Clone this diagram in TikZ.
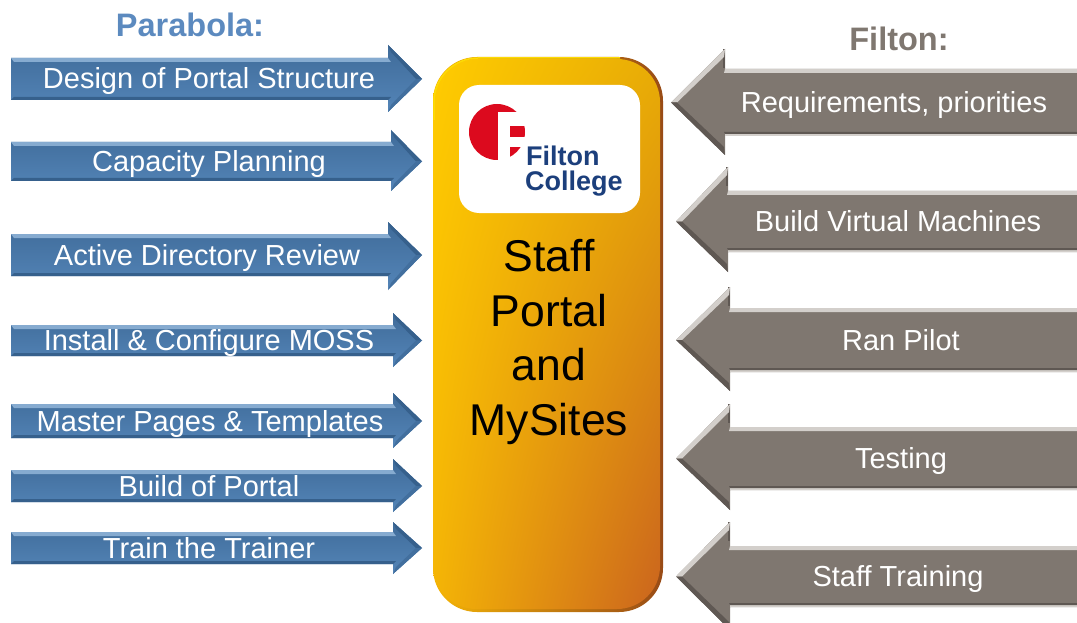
\documentclass[tikz,border=0pt]{standalone}
\usepackage{fontspec}
\setmainfont{Liberation Sans}
\usepackage{tikz}
\usetikzlibrary{calc, shadings}

\definecolor{ParabolaBlue}{HTML}{5C8ABF}
\definecolor{ArrowBlue}{HTML}{5485B8}
\definecolor{ArrowBlueTop}{HTML}{3F6B99}
\definecolor{ArrowBlueDark}{HTML}{36608C}
\definecolor{ArrowBlueLight}{HTML}{86ABD0}
\definecolor{ArrowGrey}{HTML}{7F7770}
\definecolor{ArrowGreyDark}{HTML}{5F5853}
\definecolor{ArrowGreyLight}{HTML}{D3CFCB}
\definecolor{LogoRed}{HTML}{DC0A1E}
\definecolor{LogoBlue}{HTML}{1C3F7C}
\definecolor{BoxUL}{HTML}{FFCC00}
\definecolor{BoxUR}{HTML}{E8AC06}
\definecolor{BoxLL}{HTML}{F4B406}
\definecolor{BoxLR}{HTML}{CB641E}

% name, shaft top, shaft bottom, head top, head bottom, head base, text x, text
\newcommand{\blueArrow}[8]{
  \shade[top color = ArrowBlueTop, bottom color = ArrowBlue] (11,#2) -- (#6,#2) -- (#6,#4) -- (422,{(#2+#3)/2}) -- (#6,#5) -- (#6,#3) -- (11,#3) -- cycle;
  \fill[ArrowBlueLight] (11,#2) -- (#6,#2) -- ({#6+3},{#2+4}) -- (14,{#2+4}) -- cycle;
  \fill[ArrowBlueDark] (11,#3) -- (#6,#3) -- ({#6+3},{#3-3}) -- (14,{#3-3}) -- cycle;
  \fill[ArrowBlueDark] (#6,#4) -- (422,{(#2+#3)/2}) -- (416,{(#2+#3)/2}) -- ({#6+3},{#4+7}) -- cycle;
  \fill[ArrowBlueDark!60!ArrowBlue] (#6,#5) -- (422,{(#2+#3)/2}) -- (416,{(#2+#3)/2}) -- ({#6+3},{#5-7}) -- cycle;
  \node (#1) [arrowText] at (#7,{(#2+#3)/2}) {#8};
}
\newcommand{\greyArrow}[9]{
  \fill[ArrowGrey] (1077,#2) -- (#6,#2) -- (#6,#4) -- (#9,{(#2+#3)/2}) -- (#6,#5) -- (#6,#3) -- (1077,#3) -- cycle;
  \fill[ArrowGreyLight] (1077,#2) -- (#6,#2) -- ({#6-1},{#2+4}) -- (1077,{#2+4}) -- cycle;
  \fill[ArrowGreyLight] (1077,#3) -- (#6,#3) -- (#6,{#3-2}) -- (1077,{#3-2}) -- cycle;
  \fill[ArrowGreyDark] (1077,{#3-2}) -- (#6,{#3-2}) -- ({#6-1},{#3-4}) -- (1077,{#3-4}) -- cycle;
  \fill[ArrowGreyDark] ({#6-2},#4) -- (#6,#4) -- (#6,{#4+19}) -- ({#6-2},{#4+19}) -- cycle;
  \fill[ArrowGreyLight] (#6,#4) -- (#9,{(#2+#3)/2}) -- ({#9+6},{(#2+#3)/2}) -- ({#6-1},{#4+8}) -- cycle;
  \fill[ArrowGreyDark] (#6,#5) -- (#9,{(#2+#3)/2}) -- ({#9+6},{(#2+#3)/2}) -- ({#6-1},{#5-8}) -- cycle;
  \node (#1) [arrowText] at (#7,{(#2+#3)/2}) {#8};
}

\begin{document}
\begin{tikzpicture}[x=1pt, y=-1pt]

% Node styles
\tikzset{arrowText/.style={text = white, font = \fontsize{29}{29}\selectfont, inner sep = 0pt, text height = 20pt, text depth = 0pt}}
\tikzset{headText/.style={font = \fontsize{32.5}{32.5}\selectfont\bfseries, inner sep = 0pt, text height = 23pt, text depth = 0pt}}
\tikzset{portalText/.style={font = \fontsize{44.5}{54.5}\selectfont, align = center, inner sep = 0pt}}
\tikzset{logoText/.style={text = LogoBlue, font = \fontsize{27}{27}\selectfont\bfseries, inner sep = 0pt, anchor = west, text height = 19pt, text depth = 0pt}}

\useasboundingbox (0,0) rectangle (1077,623);

% Headings
\node (parabola) [headText, text = ParabolaBlue] at (190,25) {Parabola:};
\node (filton) [headText, text = ArrowGrey] at (899,39) {Filton:};

% Centre box
\shade[rounded corners = 44pt, left color = BoxLL, right color = BoxLR!75!black] (433,57) rectangle (663,612);
\shade[rounded corners = 43pt, upper left = BoxUL, upper right = BoxUR, lower left = BoxLL, lower right = BoxLR]
  (433,59) rectangle (660,609);
\draw[rounded corners = 44pt, yellow!45!BoxUL, line width = 1.5pt] (434,120) -- (434,58) -- (620,58);

% Logo
\fill[white, rounded corners = 20pt] (459,85) rectangle (640,213);
\fill[LogoRed] (497,132) circle (28);
\fill[white] (498,112) rectangle (526,126);
\fill[white] (498,112) rectangle (510,161);
\fill[white] (510,137) rectangle (526,147);
\node (logo1) [logoText] at (526,156) {Filton};
\node (logo2) [logoText] at (525,181) {College};

% Portal text
\node (portal) [portalText] at (549,342) {Staff\\Portal\\and\\MySites};

% Parabola arrows
\blueArrow{a1}{58}{100}{45}{112}{388}{209}{Design of Portal Structure}
\blueArrow{a2}{142}{181}{130}{191}{391}{209}{Capacity Planning}
\blueArrow{a3}{234}{276}{222}{290}{388}{207}{Active Directory Review}
\blueArrow{a4}{325}{356}{313}{367}{393}{209}{Install \& Configure MOSS}
\blueArrow{a5}{404}{438}{393}{448}{393}{210}{Master Pages \& Templates}
\blueArrow{a6}{470}{502}{459}{512}{393}{209}{Build of Portal}
\blueArrow{a7}{532}{564}{522}{574}{393}{209}{Train the Trainer}

% Filton arrows
\greyArrow{b1}{69}{136}{49}{155}{725}{894}{Requirements, priorities}{671}
\greyArrow{b2}{191}{252}{167}{272}{728}{898}{Build Virtual Machines}{676}
\greyArrow{b3}{308}{372}{287}{391}{730}{901}{Ran Pilot}{676}
\greyArrow{b4}{427}{490}{404}{510}{730}{901}{Testing}{676}
\greyArrow{b5}{546}{607}{522}{630}{730}{898}{Staff Training}{676}

\end{tikzpicture}
\end{document}
